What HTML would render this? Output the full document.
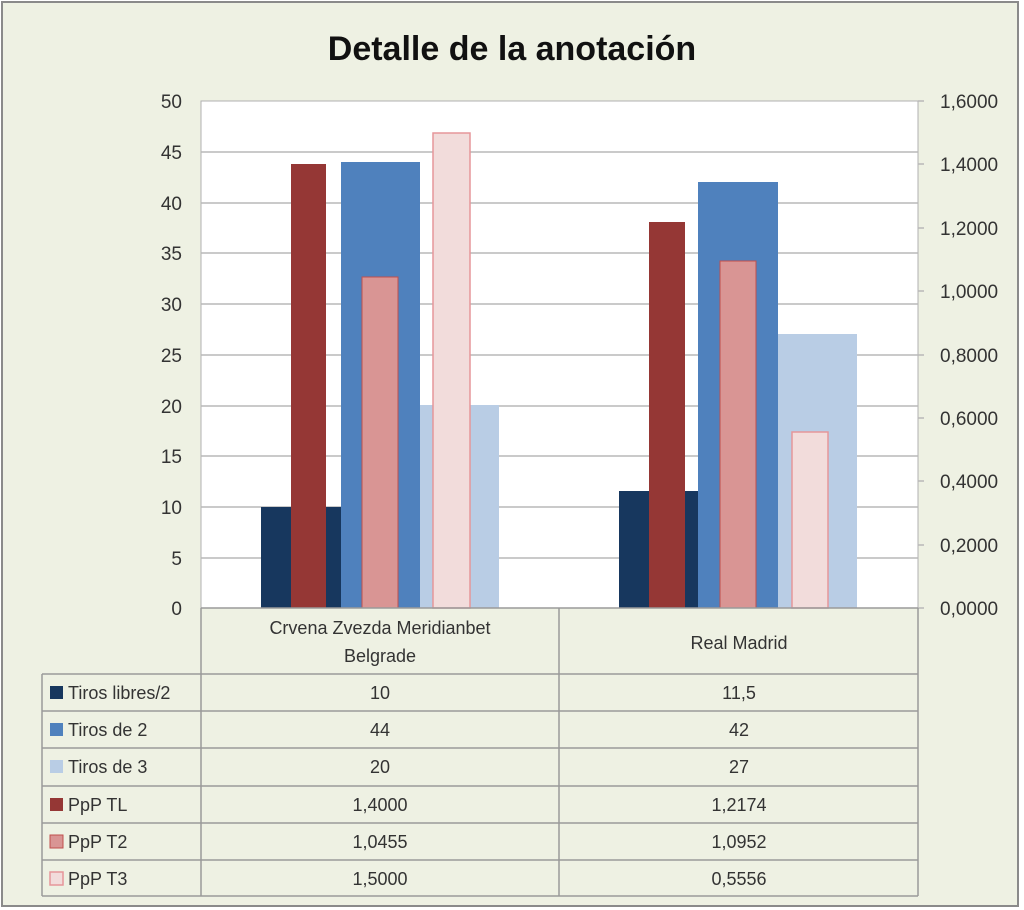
<!DOCTYPE html>
<html><head><meta charset="utf-8"><style>
html,body{margin:0;padding:0;background:#fff}
svg{display:block}
text{font-family:"Liberation Sans",sans-serif;fill:#333}
</style></head><body>
<svg width="1024" height="910" viewBox="0 0 1024 910" xmlns="http://www.w3.org/2000/svg">
<rect x="0" y="0" width="1024" height="910" fill="#fff"/>
<rect x="2" y="2" width="1016" height="904" fill="#eef1e3" stroke="#8a8a8a" stroke-width="2"/>
<text x="512" y="60" text-anchor="middle" font-size="34" font-weight="bold" style="fill:#111">Detalle de la anotación</text>
<rect x="201" y="101" width="717" height="507" fill="#fff" stroke="#b0b0b0"/>
<g stroke="#b8b8b8" stroke-width="1.5">
<line x1="201" x2="918" y1="152" y2="152"/><line x1="201" x2="918" y1="203" y2="203"/>
<line x1="201" x2="918" y1="253" y2="253"/><line x1="201" x2="918" y1="304" y2="304"/>
<line x1="201" x2="918" y1="355" y2="355"/><line x1="201" x2="918" y1="406" y2="406"/>
<line x1="201" x2="918" y1="456" y2="456"/><line x1="201" x2="918" y1="507" y2="507"/>
<line x1="201" x2="918" y1="558" y2="558"/>
<line x1="918" x2="924" y1="101" y2="101"/><line x1="918" x2="924" y1="164" y2="164"/>
<line x1="918" x2="924" y1="228" y2="228"/><line x1="918" x2="924" y1="291" y2="291"/>
<line x1="918" x2="924" y1="355" y2="355"/><line x1="918" x2="924" y1="418" y2="418"/>
<line x1="918" x2="924" y1="481" y2="481"/><line x1="918" x2="924" y1="545" y2="545"/>
<line x1="918" x2="924" y1="608" y2="608"/>
</g>
<g font-size="19" text-anchor="end">
<text x="182" y="108">50</text><text x="182" y="159">45</text><text x="182" y="210">40</text>
<text x="182" y="260">35</text><text x="182" y="311">30</text><text x="182" y="362">25</text>
<text x="182" y="413">20</text><text x="182" y="463">15</text><text x="182" y="514">10</text>
<text x="182" y="565">5</text><text x="182" y="615">0</text>
</g>
<g font-size="19" text-anchor="start">
<text x="940" y="108">1,6000</text><text x="940" y="171">1,4000</text><text x="940" y="235">1,2000</text>
<text x="940" y="298">1,0000</text><text x="940" y="362">0,8000</text><text x="940" y="425">0,6000</text>
<text x="940" y="488">0,4000</text><text x="940" y="552">0,2000</text><text x="940" y="615">0,0000</text>
</g>
<!-- primary bars -->
<rect x="261" y="507" width="80" height="101" fill="#17375e"/>
<rect x="341" y="162" width="79" height="446" fill="#4f81bd"/>
<rect x="420" y="405" width="79" height="203" fill="#b9cde5"/>
<rect x="619" y="491" width="80" height="117" fill="#17375e"/>
<rect x="698" y="182" width="80" height="426" fill="#4f81bd"/>
<rect x="778" y="334" width="79" height="274" fill="#b9cde5"/>
<!-- secondary bars -->
<rect x="291" y="164" width="35" height="444" fill="#953735"/>
<rect x="362" y="277" width="36" height="331" fill="#d99594" stroke="#c0504d" stroke-width="1"/>
<rect x="433" y="133" width="37" height="475" fill="#f2dcdb" stroke="#e6969a" stroke-width="1.5"/>
<rect x="649" y="222" width="36" height="386" fill="#953735"/>
<rect x="720" y="261" width="36" height="347" fill="#d99594" stroke="#c0504d" stroke-width="1"/>
<rect x="792" y="432" width="36" height="176" fill="#f2dcdb" stroke="#e6969a" stroke-width="1.5"/>
<!-- table -->
<g stroke="#9a9a9a" stroke-width="1.5" fill="none">
<line x1="201" y1="608" x2="201" y2="896"/><line x1="559" y1="608" x2="559" y2="896"/><line x1="918" y1="608" x2="918" y2="896"/>
<line x1="42" y1="674" x2="42" y2="896"/>
<line x1="42" y1="674" x2="918" y2="674"/><line x1="42" y1="711" x2="918" y2="711"/>
<line x1="42" y1="748" x2="918" y2="748"/><line x1="42" y1="786" x2="918" y2="786"/>
<line x1="42" y1="823" x2="918" y2="823"/><line x1="42" y1="860" x2="918" y2="860"/>
<line x1="42" y1="896" x2="918" y2="896"/>
<line x1="201" y1="608" x2="918" y2="608"/>
</g>
<g font-size="18" text-anchor="middle">
<text x="380" y="634">Crvena Zvezda Meridianbet</text>
<text x="380" y="662">Belgrade</text>
<text x="739" y="649">Real Madrid</text>
<text x="380" y="699">10</text><text x="739" y="699">11,5</text>
<text x="380" y="736">44</text><text x="739" y="736">42</text>
<text x="380" y="773">20</text><text x="739" y="773">27</text>
<text x="380" y="811">1,4000</text><text x="739" y="811">1,2174</text>
<text x="380" y="848">1,0455</text><text x="739" y="848">1,0952</text>
<text x="380" y="885">1,5000</text><text x="739" y="885">0,5556</text>
</g>
<rect x="50" y="686" width="13" height="13" fill="#17375e"/>
<rect x="50" y="723" width="13" height="13" fill="#4f81bd"/>
<rect x="50" y="760" width="13" height="13" fill="#b9cde5"/>
<rect x="50" y="798" width="13" height="13" fill="#953735"/>
<rect x="50" y="835" width="13" height="13" fill="#d99594" stroke="#c0504d"/>
<rect x="50" y="872" width="13" height="13" fill="#f2dcdb" stroke="#e6969a" stroke-width="1.5"/>
<g font-size="18">
<text x="68" y="699">Tiros libres/2</text>
<text x="68" y="736">Tiros de 2</text>
<text x="68" y="773">Tiros de 3</text>
<text x="68" y="811">PpP TL</text>
<text x="68" y="848">PpP T2</text>
<text x="68" y="885">PpP T3</text>
</g>
</svg>
</body></html>
